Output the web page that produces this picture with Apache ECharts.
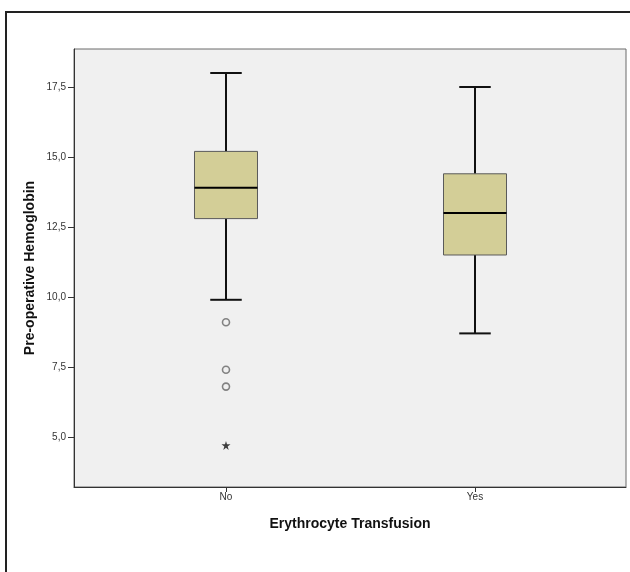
<!DOCTYPE html>
<html>
<head>
<meta charset="utf-8">
<script src="https://cdn.jsdelivr.net/npm/echarts@6/dist/echarts.min.js"></script>
<style>
html,body{margin:0;padding:0;background:#fff;}
#c{width:630px;height:572px;}
</style>
</head>
<body>
<div id="c"></div>
<script>
// Data
const categories = ['No', 'Yes'];
// [position, lowerWhisker, Q1, median, Q3, upperWhisker]
const boxNo = [1, 9.9, 12.8, 13.9, 15.2, 18.0];
const boxYes = [2, 8.7, 11.5, 13.0, 14.4, 17.5];
const outliersNo = [[1, 9.1], [1, 7.4], [1, 6.8]];
const extremesNo = [[1, 4.7]];
const yTicks = [5, 7.5, 10, 12.5, 15, 17.5];

const chart = echarts.init(document.getElementById('c'), null, {renderer: 'canvas'});
const FONT = 'Liberation Sans, Arial, sans-serif';

const option = {
  backgroundColor: '#ffffff',
  animation: false,
  graphic: [{
    type: 'rect',
    x: 6, y: 12,
    shape: {x: 0, y: 0, width: 640, height: 600},
    style: {fill: 'none', stroke: '#222', lineWidth: 2},
    z: -10
  }],
  grid: {
    left: 74, top: 49, width: 552, height: 438,
    containLabel: false,
    outerBoundsMode: 'none',
    show: true,
    backgroundColor: '#f0f0f0',
    borderColor: '#6a6a6a',
    borderWidth: 1
  },
  xAxis: {
    type: 'value',
    min: 0.3896, max: 2.6064,
    name: 'Erythrocyte Transfusion',
    nameLocation: 'middle',
    nameGap: 30,
    nameMoveOverlap: false,
    nameTextStyle: {fontFamily: FONT, fontSize: 14, fontWeight: 'bold', color: '#111'},
    axisLine: {show: true, lineStyle: {color: '#333', width: 1}},
    axisTick: {show: true, length: 5, customValues: [1, 2], lineStyle: {color: '#333'}},
    axisLabel: {
      customValues: [1, 2],
      margin: 5,
      fontFamily: FONT, fontSize: 10, color: '#333',
      formatter: v => categories[Math.round(v) - 1]
    },
    splitLine: {show: false}
  },
  yAxis: {
    type: 'value',
    min: 3.214, max: 18.857,
    name: 'Pre-operative Hemoglobin',
    nameLocation: 'middle',
    nameGap: 37,
    nameMoveOverlap: false,
    nameTextStyle: {fontFamily: FONT, fontSize: 14, fontWeight: 'bold', color: '#111'},
    axisLine: {show: true, lineStyle: {color: '#333', width: 1}},
    axisTick: {show: true, length: 6, customValues: yTicks, lineStyle: {color: '#333'}},
    axisLabel: {
      customValues: yTicks,
      margin: 8,
      fontFamily: FONT, fontSize: 10, color: '#333',
      formatter: v => v.toFixed(1).replace('.', ',')
    },
    splitLine: {show: false}
  },
  series: [
    {
      type: 'custom',
      data: [boxNo, boxYes],
      encode: {x: 0, y: [1, 2, 3, 4, 5]},
      renderItem: function (params, api) {
        const x = api.value(0);
        const lo = api.coord([x, api.value(1)]);
        const q1 = api.coord([x, api.value(2)]);
        const med = api.coord([x, api.value(3)]);
        const q3 = api.coord([x, api.value(4)]);
        const hi = api.coord([x, api.value(5)]);
        const bw = api.size([0.253, 0])[0];
        const hb = bw / 2;
        const hc = bw / 4;
        const cx = lo[0];
        const ls = {stroke: '#111', lineWidth: 2};
        return {
          type: 'group',
          children: [
            {type: 'line', shape: {x1: cx, y1: hi[1], x2: cx, y2: q3[1]}, style: ls},
            {type: 'line', shape: {x1: cx, y1: q1[1], x2: cx, y2: lo[1]}, style: ls},
            {type: 'line', shape: {x1: cx - hc, y1: hi[1], x2: cx + hc, y2: hi[1]}, style: ls},
            {type: 'line', shape: {x1: cx - hc, y1: lo[1], x2: cx + hc, y2: lo[1]}, style: ls},
            {type: 'rect', shape: {x: cx - hb, y: q3[1], width: bw, height: q1[1] - q3[1]},
              style: {fill: '#d3ce97', stroke: '#5a5a5a', lineWidth: 1}},
            {type: 'line', shape: {x1: cx - hb, y1: med[1], x2: cx + hb, y2: med[1]}, style: {stroke: '#000', lineWidth: 2}}
          ]
        };
      },
      z: 2
    },
    {
      type: 'scatter',
      data: outliersNo,
      symbol: 'circle',
      symbolSize: 7,
      itemStyle: {color: '#f0f0f0', borderColor: '#666', borderWidth: 1.6},
      z: 3
    },
    {
      type: 'scatter',
      data: extremesNo,
      symbol: 'path://M50,0 L61,35 L98,35 L68,57 L79,91 L50,70 L21,91 L32,57 L2,35 L39,35 Z',
      symbolSize: 9,
      itemStyle: {color: '#111'},
      z: 3
    }
  ]
};
chart.setOption(option);
</script>
</body>
</html>
